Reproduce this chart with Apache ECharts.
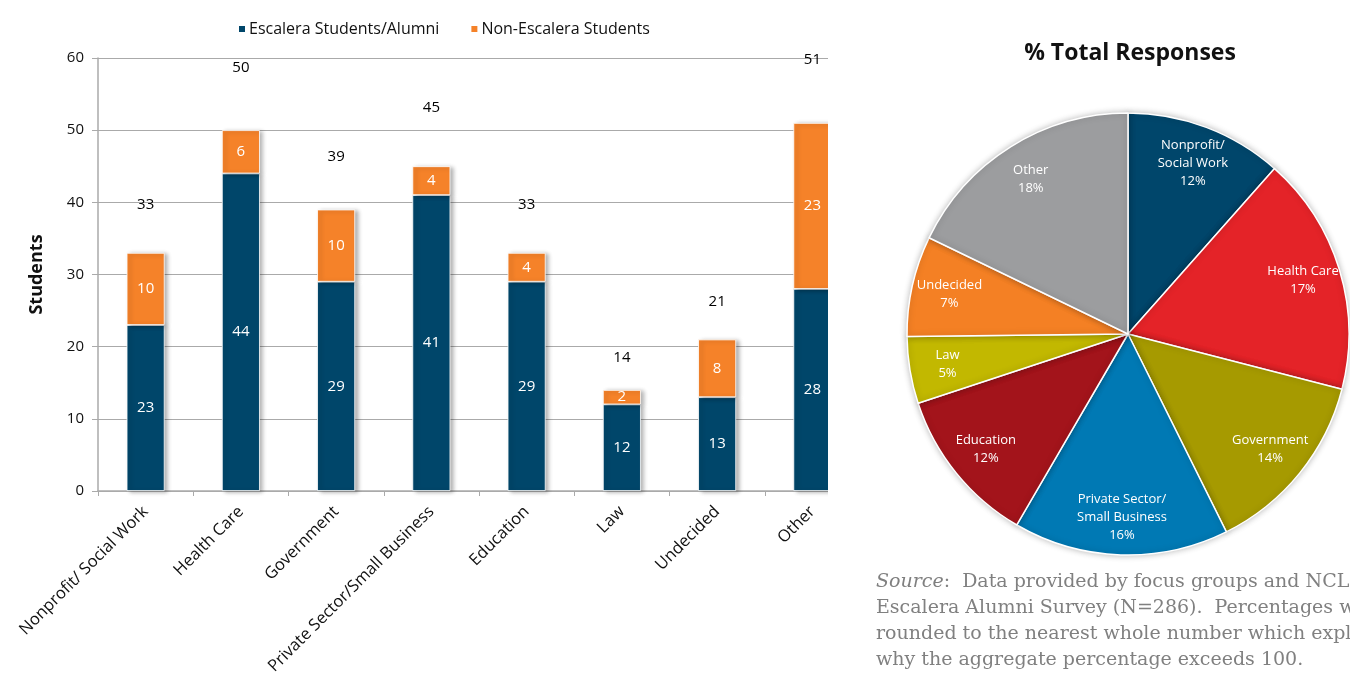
<!DOCTYPE html>
<html>
<head>
<meta charset="utf-8">
<script src="https://cdn.jsdelivr.net/npm/echarts@6/dist/echarts.min.js"></script>
<style>html,body{margin:0;padding:0;background:#fff;}#c{width:1350px;height:680px;}</style>
</head>
<body>
<div id="c"></div>
<script>
const categories = ['Nonprofit/ Social Work','Health Care','Government','Private Sector/Small Business','Education','Law','Undecided','Other'];
const escalera = [23, 44, 29, 41, 29, 12, 13, 28];
const nonEscalera = [10, 6, 10, 4, 4, 2, 8, 23];
const totals = [33, 50, 39, 45, 33, 14, 21, 51];
const pieNames = ['Nonprofit/\nSocial Work','Health Care','Government','Private Sector/\nSmall Business','Education','Law','Undecided','Other'];
const pieColors = ['#00466b','#e42328','#a69a00','#0079b4','#a3141b','#c2b800','#f48024','#9c9d9f'];
const yTicks = [0, 10, 20, 30, 40, 50, 60];

const pieTotal = totals.reduce((a,b)=>a+b,0);
const pieData = totals.map((v,i)=>({name: pieNames[i], value: v, itemStyle:{color: pieColors[i]}}));
const font = 'Open Sans';

const chart = echarts.init(document.getElementById('c'), null, {renderer:'canvas'});
chart.setOption({
  backgroundColor: '#fff',
  animation: false,
  textStyle: {fontFamily: font},
  title: {
    text: '% Total Responses', left: 1125, top: 37, textAlign: 'center',
    textStyle: {fontFamily: font, fontWeight: 'bold', fontSize: 23, color: '#111'}
  },
  legend: {
    data: ['Escalera Students/Alumni','Non-Escalera Students'],
    left: 232, top: 16, icon: 'rect', itemWidth: 8, itemHeight: 8, itemGap: 30,
    textStyle: {fontFamily: font, fontSize: 16, color: '#111', padding: [0,0,0,-2]}
  },
  grid: {left: 98, right: 490, top: 58, bottom: 189, containLabel: false},
  xAxis: {
    type: 'category', data: categories,
    axisLine: {lineStyle: {color: '#aaa', width: 1.5}},
    axisTick: {show: true, alignWithLabel: false, length: 5, lineStyle: {color: '#aaa'}},
    axisLabel: {rotate: 45, fontSize: 16.5, color: '#111', fontFamily: font, margin: 18, interval: 0}
  },
  yAxis: {
    type: 'value', min: yTicks[0], max: yTicks[yTicks.length-1], interval: 10,
    name: 'Students', nameLocation: 'middle', nameGap: 52,
    nameTextStyle: {fontFamily: font, fontWeight: 'bold', fontSize: 18, color: '#111'},
    axisLine: {show: true, lineStyle: {color: '#aaa', width: 1.5}},
    axisTick: {show: true, length: 6, inside: false, lineStyle: {color: '#aaa'}},
    axisLabel: {fontSize: 15, color: '#111', margin: 14, fontFamily: font},
    splitLine: {lineStyle: {color: '#aaa', width: 1.2}}
  },
  series: [
    {
      name: 'Escalera Students/Alumni', type: 'bar', stack: 's', data: escalera, barWidth: 38,
      itemStyle: {color: '#00466a', borderColor: '#fff', borderWidth: 0.8,
        shadowColor: 'rgba(0,0,0,0.3)', shadowBlur: 4, shadowOffsetX: 3, shadowOffsetY: 1},
      label: {show: true, position: 'inside', color: '#fff', fontSize: 15, fontFamily: font}
    },
    {
      name: 'Non-Escalera Students', type: 'bar', stack: 's', data: nonEscalera, barWidth: 38,
      itemStyle: {color: '#f58229', borderColor: '#fff', borderWidth: 0.8,
        shadowColor: 'rgba(0,0,0,0.3)', shadowBlur: 4, shadowOffsetX: 3, shadowOffsetY: 1},
      label: {show: true, position: 'inside', color: '#fff', fontSize: 15, fontFamily: font}
    },
    {
      name: 'Total', type: 'scatter', symbolSize: 0, silent: true, clip: false,
      itemStyle: {opacity: 1},
      data: totals.map(v => ({value: v, label: {offset: [0, -(32 + (v - 14) * 0.85)]}})),
      label: {show: true, position: 'inside', color: '#000', fontSize: 15, fontFamily: font,
        formatter: p => String(p.value)}
    },
    {
      name: 'pie', type: 'pie', center: [1128, 334], radius: [0, 221], startAngle: 90, clockwise: true,
      data: pieData, silent: true,
      itemStyle: {borderColor: '#fff', borderWidth: 1.5, shadowColor: 'rgba(0,0,0,0.25)', shadowBlur: 6},
      label: {show: false}, labelLine: {show: false}
    },
    {
      name: 'pieLabels', type: 'pie', center: [1128, 334], radius: [139, 221], startAngle: 90, clockwise: true,
      data: pieData.map(d => ({name: d.name, value: d.value})), silent: true,
      itemStyle: {color: 'rgba(0,0,0,0)'},
      label: {show: true, position: 'inside', color: '#fff', fontSize: 13, lineHeight: 18, fontFamily: font,
        formatter: p => p.name + '\n' + Math.round(p.value / pieTotal * 100) + '%'},
      labelLine: {show: false}
    }
  ],
  graphic: [
    {
      type: 'rect', left: 828, top: 0, z: 100, silent: true,
      shape: {width: 46, height: 560},
      style: {fill: '#fff'}
    },
    {
      type: 'text', left: 876, top: 569, silent: true, z: 101,
      style: {
        text: '{i|Source}:  Data provided by focus groups and NCLR\nEscalera Alumni Survey (N=286).  Percentages were\nrounded to the nearest whole number which explains\nwhy the aggregate percentage exceeds 100.',
        font: '19px "DejaVu Serif"', fill: '#808080', lineHeight: 26,
        rich: {i: {fontStyle: 'italic', fontFamily: 'DejaVu Serif', fontSize: 19, fill: '#808080'}}
      }
    }
  ]
});
</script>
</body>
</html>
